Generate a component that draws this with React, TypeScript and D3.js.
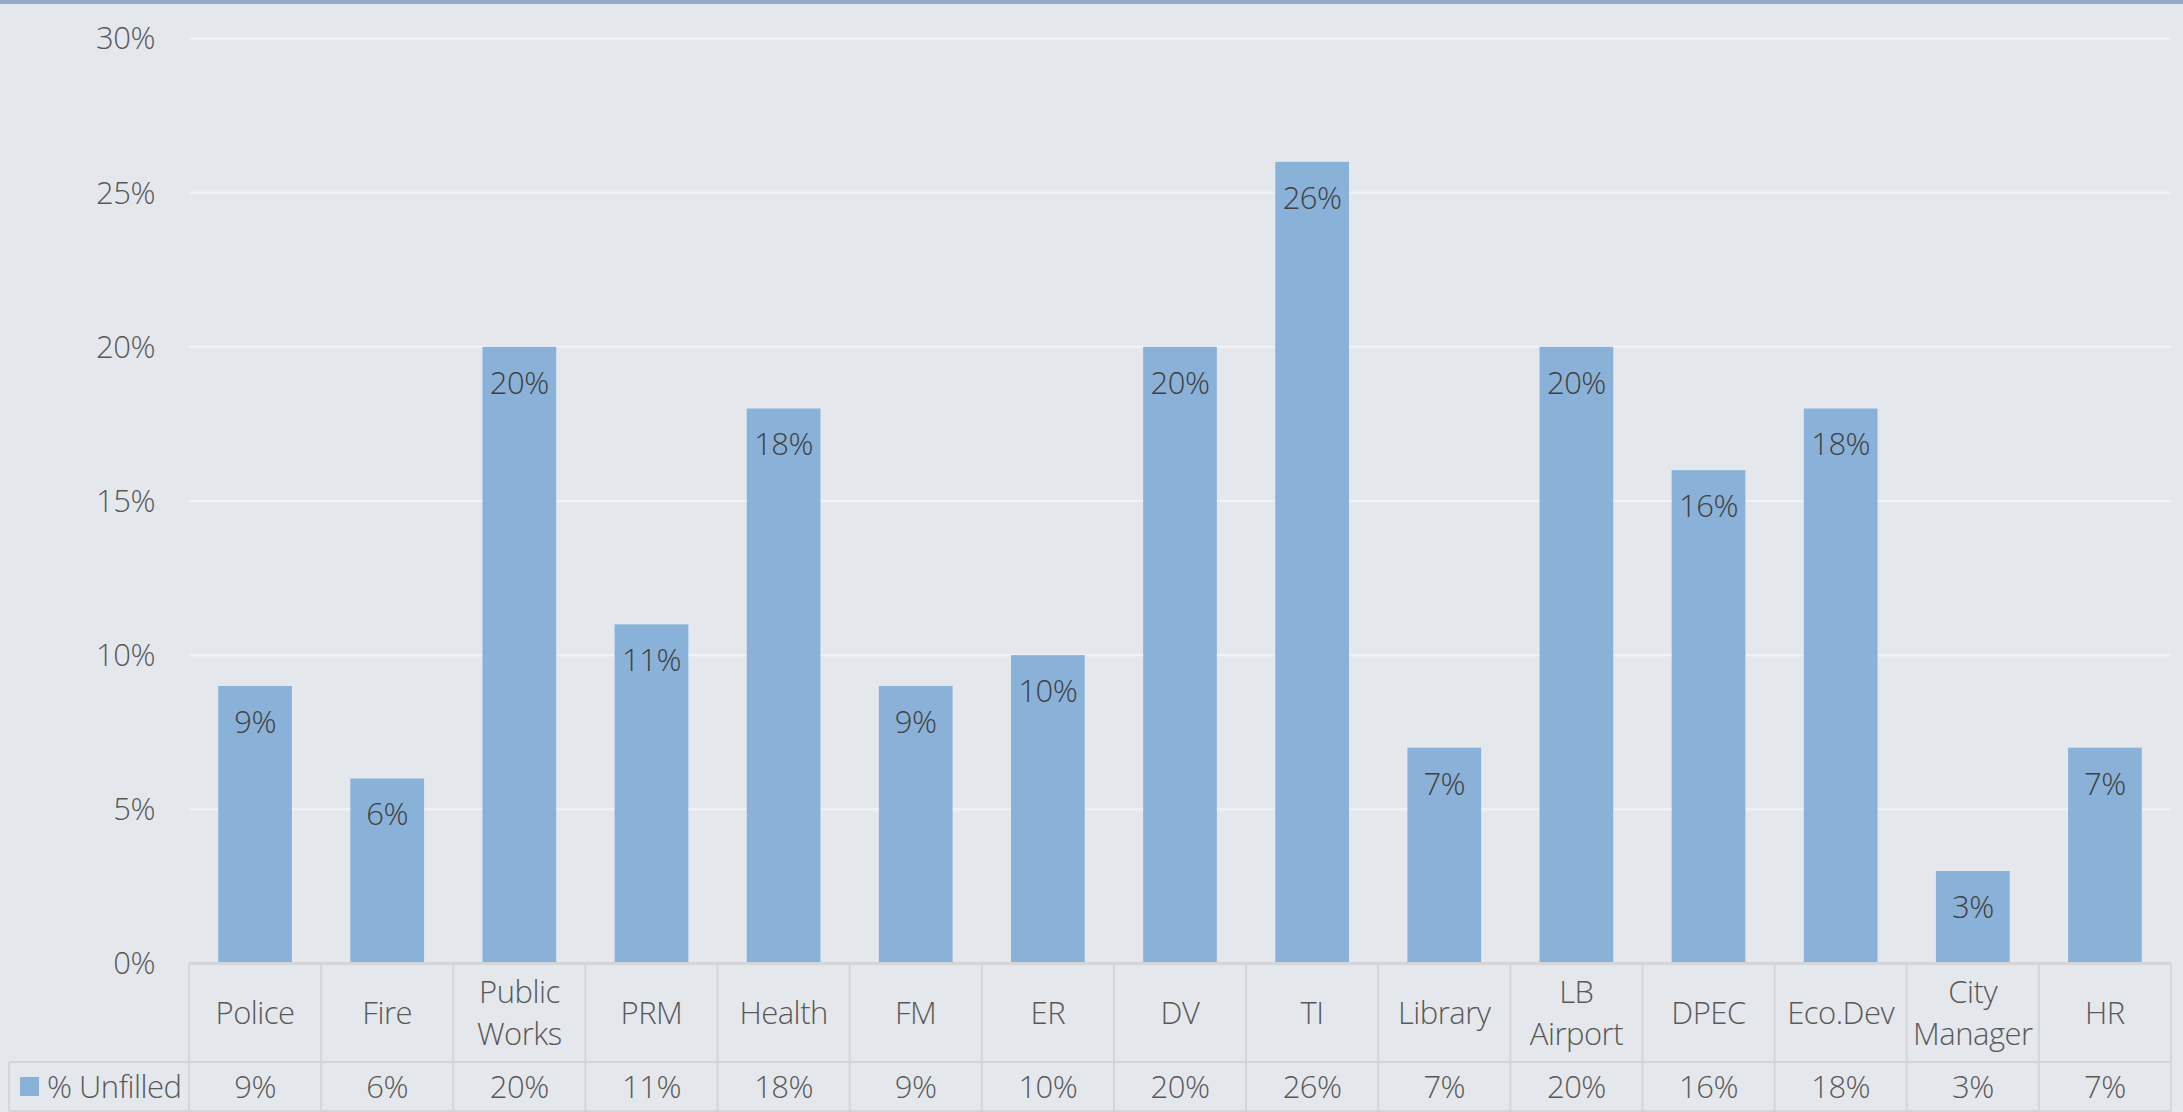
import React from "react";
import * as d3 from "d3";

const categories: string[][] = [
  ["Police"], ["Fire"], ["Public", "Works"], ["PRM"], ["Health"], ["FM"], ["ER"], ["DV"],
  ["TI"], ["Library"], ["LB", "Airport"], ["DPEC"], ["Eco.Dev"], ["City", "Manager"], ["HR"],
];
const unfilled: number[] = [9, 6, 20, 11, 18, 9, 10, 20, 26, 7, 20, 16, 18, 3, 7];
const yTicks: number[] = [0, 5, 10, 15, 20, 25, 30];
const seriesName = "% Unfilled";

const W = 2183;
const H = 1112;
const left = 189;
const right = 2171;
const top = 38.5;
const bottom = 963.5;
const tableRowY = 1062;
const tableBottom = 1111;

const FONT = "'Open Sans', 'Segoe UI', sans-serif";
const BAR = "#8AB2D8";
const GRID_BG = "#E4E8ED";
const LINE = "#D3D5D8";
const FS = 31;
const LS = -0.5;

export default function App() {
  const x = d3.scaleBand<number>().domain(d3.range(categories.length)).range([left, right]).paddingInner(0).paddingOuter(0);
  const y = d3.scaleLinear().domain([0, 30]).range([bottom, top]);
  const bw = x.bandwidth();
  const barW = bw * 0.558;

  return (
    <>
      <style>{"body{margin:0;background:" + GRID_BG + ";}"}</style>
      <svg width={W} height={H} style={{ display: "block" }} fontFamily={FONT} letterSpacing={LS}>
        <rect x={0} y={0} width={W} height={H} fill={GRID_BG} />
        <rect x={0} y={0} width={W} height={4} fill="#98A6C8" />
        {yTicks.map((t) => (
          <g key={t}>
            {t > 0 && (
              <line x1={left} x2={right} y1={y(t)} y2={y(t)} stroke="#F1F3F6" strokeWidth={2} />
            )}
            <text x={155} y={y(t)} dy="0.35em" textAnchor="end" fontSize={FS} fontWeight={300} fill="#595959">
              {t + "%"}
            </text>
          </g>
        ))}
        {unfilled.map((v, i) => {
          const cx = (x(i) as number) + bw / 2;
          return (
            <g key={i}>
              <rect x={cx - barW / 2} y={y(v)} width={barW} height={y(0) - y(v)} fill={BAR} />
              <text x={cx} y={y(v) + 36} dy="0.35em" textAnchor="middle" fontSize={FS} fontWeight={300} fill="#404040">
                {v + "%"}
              </text>
            </g>
          );
        })}
        {/* table */}
        <line x1={left} x2={right} y1={bottom} y2={bottom} stroke={LINE} strokeWidth={3} />
        <line x1={9} x2={right} y1={tableRowY} y2={tableRowY} stroke={LINE} strokeWidth={2} />
        <line x1={9} x2={right} y1={tableBottom} y2={tableBottom} stroke={LINE} strokeWidth={2} />
        <line x1={9} x2={9} y1={tableRowY} y2={tableBottom} stroke={LINE} strokeWidth={2} />
        {d3.range(categories.length + 1).map((i) => {
          const xx = i < categories.length ? (x(i) as number) : right;
          return <line key={i} x1={xx} x2={xx} y1={bottom} y2={tableBottom} stroke={LINE} strokeWidth={2} />;
        })}
        {categories.map((lines, i) => {
          const cx = (x(i) as number) + bw / 2;
          const mid = 1013;
          const lh = 42;
          return (
            <g key={i}>
              {lines.map((ln, j) => (
                <text key={j} x={cx} y={mid + (j - (lines.length - 1) / 2) * lh} dy="0.35em" textAnchor="middle" fontSize={FS} fontWeight={300} fill="#595959">
                  {ln}
                </text>
              ))}
              <text x={cx} y={1087} dy="0.35em" textAnchor="middle" fontSize={FS} fontWeight={300} fill="#595959">
                {unfilled[i] + "%"}
              </text>
            </g>
          );
        })}
        <rect x={20} y={1077} width={19} height={19} fill={BAR} />
        <text x={47} y={1087} dy="0.35em" fontSize={FS} fontWeight={300} fill="#595959">
          {seriesName}
        </text>
      </svg>
    </>
  );
}
